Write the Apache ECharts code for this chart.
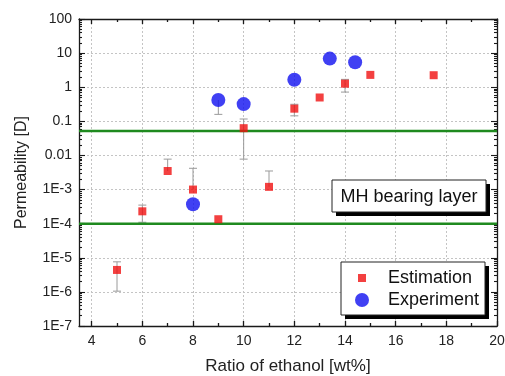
<!DOCTYPE html>
<html>
<head>
<meta charset="utf-8">
<script src="https://cdn.jsdelivr.net/npm/echarts@6/dist/echarts.min.js"></script>
<style>
  html, body { margin: 0; padding: 0; background: #fff; }
  #chart { width: 505px; height: 376px; }
</style>
</head>
<body>
<div id="chart"></div>
<script>
// Estimation (red squares) with error bars
const estX = [5, 6, 7, 8, 9, 10, 11, 12, 13, 14, 15, 17.5];
const estY = [4.4e-6, 2.3e-4, 3.5e-3, 1.0e-3, 1.35e-4, 0.063, 1.2e-3, 0.235, 0.5, 1.27, 2.3, 2.25];
const estLow = [1.05e-6, 1.1e-4, 3.5e-3, 1.0e-3, 1.35e-4, 7.8e-3, 1.2e-3, 0.145, 0.5, 0.72, 2.3, 2.25];
const estHigh = [7.6e-6, 3.5e-4, 7.8e-3, 4.2e-3, 1.35e-4, 0.117, 3.5e-3, 0.316, 0.5, 1.7, 2.3, 2.25];

// Experiment (blue circles)
const expX = [8, 9, 10, 12, 13.4, 14.4];
const expY = [3.7e-4, 0.42, 0.32, 1.66, 6.9, 5.4];
const expLow = [3.7e-4, 0.16, 0.32, 1.66, 6.9, 5.4];
const expHigh = [3.7e-4, 0.42, 0.32, 1.66, 6.9, 5.4];

// MH bearing layer bounds (green lines)
const layerBounds = [0.052, 1e-4];

const xMajor = [4, 6, 8, 10, 12, 14, 16, 18, 20];
const xMinor = [5, 7, 9, 11, 13, 15, 17, 19];
const yTickLabels = ['1E-7', '1E-6', '1E-5', '1E-4', '1E-3', '0.01', '0.1', '1', '10', '100'];
const yMajor = yTickLabels.map((_, i) => Math.pow(10, i - 7));
const yMinor = [];
for (let e = -7; e < 2; e++) {
  for (let m = 2; m <= 9; m++) yMinor.push(m * Math.pow(10, e));
}

const FONT = 'Liberation Sans, Arial, sans-serif';
const AXIS_COLOR = '#1a1a1a';

const chart = echarts.init(document.getElementById('chart'), null, { renderer: 'canvas' });

const gridBox = { left: 79, top: 19, right: 8, bottom: 50, outerBoundsMode: 'none', containLabel: false };

function xAxisDef(gridIndex, position, ticks, len, main) {
  const labelled = position === 'bottom' && main;
  return {
    type: 'value', gridIndex, position, min: 3.5, max: 20, splitNumber: 8,
    axisLine: { show: main, lineStyle: { color: AXIS_COLOR, width: 1.3 } },
    axisTick: { show: true, inside: true, length: len, customValues: ticks,
      lineStyle: { color: AXIS_COLOR, width: 1.3 } },
    axisLabel: labelled ? {
      customValues: xMajor, fontSize: 14, color: '#222', fontFamily: FONT, margin: 8
    } : { show: false },
    splitLine: labelled ? {
      show: true, lineStyle: { color: '#c4c4c4', type: [2, 2], width: 1 }
    } : { show: false },
    name: labelled ? 'Ratio of ethanol [wt%]' : '',
    nameLocation: 'middle', nameGap: 32,
    nameTextStyle: { fontSize: 17, color: '#222', fontFamily: FONT }
  };
}

function yAxisDef(gridIndex, position, ticks, len, main) {
  const labelled = position === 'left' && main;
  return {
    type: 'log', logBase: 10, gridIndex, position, min: 1e-7, max: 100, splitNumber: 9,
    axisLine: { show: main, lineStyle: { color: AXIS_COLOR, width: 1.3 } },
    axisTick: { show: true, inside: true, length: len, customValues: ticks,
      lineStyle: { color: AXIS_COLOR, width: 1.1 } },
    axisLabel: labelled ? {
      fontSize: 14, color: '#222', fontFamily: FONT, margin: 7,
      formatter: v => yTickLabels[Math.round(Math.log10(v)) + 7]
    } : { show: false },
    splitLine: labelled ? {
      show: true, lineStyle: { color: '#c4c4c4', type: [2, 2], width: 1 }
    } : { show: false },
    name: labelled ? 'Permeability [D]' : '',
    nameLocation: 'middle', nameGap: 49,
    nameTextStyle: { fontSize: 16, color: '#222', fontFamily: FONT }
  };
}

function renderErr(params, api) {
  const x = api.value(0), y = api.value(1), lo = api.value(2), hi = api.value(3);
  const c = api.coord([x, y]);
  const style = { stroke: '#9a9a9a', lineWidth: 1 };
  const children = [];
  [hi, lo].forEach(v => {
    if (Math.abs(v - y) < 1e-12) return;
    const p = api.coord([x, v]);
    children.push({ type: 'line', shape: { x1: c[0], y1: c[1], x2: p[0], y2: p[1] }, style });
    children.push({ type: 'line', shape: { x1: p[0] - 4, y1: p[1], x2: p[0] + 4, y2: p[1] }, style });
  });
  return { type: 'group', children };
}

// box with a hard black drop shadow
function shadowBox(x, y, w, h) {
  return [
    { type: 'rect', z: 10, shape: { x: x + 4, y: y + 4, width: w, height: h }, style: { fill: '#000' } },
    { type: 'rect', z: 11, shape: { x, y, width: w, height: h },
      style: { fill: '#fff', stroke: '#222', lineWidth: 1 } }
  ];
}

const estErr = estX.map((x, i) => [x, estY[i], estLow[i], estHigh[i]]);
const expErr = expX.map((x, i) => [x, expY[i], expLow[i], expHigh[i]]);

const boundSeries = layerBounds.map((v, i) => ({
  type: 'line', name: 'bound' + i, xAxisIndex: 0, yAxisIndex: 0,
  data: [[3.5, v], [20, v]], symbol: 'none', silent: true,
  lineStyle: { color: '#1f8a1f', width: 2.5 }, z: 3
}));

const option = {
  animation: false,
  backgroundColor: '#fff',
  textStyle: { fontFamily: FONT },
  graphic: [
    ...shadowBox(332, 180, 154, 32),
    { type: 'text', z: 12, x: 409, y: 197,
      style: { text: 'MH bearing layer', fontSize: 18, fill: '#111', fontFamily: FONT,
        align: 'center', verticalAlign: 'middle' } },
    ...shadowBox(341, 262, 144, 53)
  ],
  legend: {
    orient: 'vertical',
    left: 341, top: 262, z: 20,
    padding: [7, 8, 7, 14],
    itemWidth: 14, itemHeight: 14, itemGap: 4,
    textStyle: { fontSize: 18, color: '#111', fontFamily: FONT, padding: [0, 0, 0, 14] },
    data: [
      { name: 'Estimation', icon: 'path://M0,0M14,14M3,3h8v8h-8z' },
      { name: 'Experiment', icon: 'circle' }
    ]
  },
  grid: [Object.assign({}, gridBox), Object.assign({}, gridBox)],
  xAxis: [
    xAxisDef(0, 'bottom', xMajor, 5, true),
    xAxisDef(0, 'top', xMajor, 5, true),
    xAxisDef(1, 'bottom', xMinor, 3, false),
    xAxisDef(1, 'top', xMinor, 3, false)
  ],
  yAxis: [
    yAxisDef(0, 'left', yMajor, 6, true),
    yAxisDef(0, 'right', yMajor, 6, true),
    yAxisDef(1, 'left', yMinor, 3, false),
    yAxisDef(1, 'right', yMinor, 3, false)
  ],
  series: [
    ...boundSeries,
    {
      type: 'custom', name: 'errEst', xAxisIndex: 0, yAxisIndex: 0,
      renderItem: renderErr, data: estErr, encode: { x: 0, y: [1, 2, 3] }, z: 2
    },
    {
      type: 'custom', name: 'errExp', xAxisIndex: 0, yAxisIndex: 0,
      renderItem: renderErr, data: expErr, encode: { x: 0, y: [1, 2, 3] }, z: 2
    },
    {
      type: 'scatter', name: 'Estimation', xAxisIndex: 0, yAxisIndex: 0,
      symbol: 'rect', symbolSize: 8,
      itemStyle: { color: '#f01010' },
      data: estX.map((x, i) => [x, estY[i]]),
      z: 5
    },
    {
      type: 'scatter', name: 'Experiment', xAxisIndex: 0, yAxisIndex: 0,
      symbol: 'circle', symbolSize: 14,
      itemStyle: { color: '#1010f0' },
      data: expX.map((x, i) => [x, expY[i]]),
      z: 4
    }
  ]
};

chart.setOption(option);
</script>
</body>
</html>
